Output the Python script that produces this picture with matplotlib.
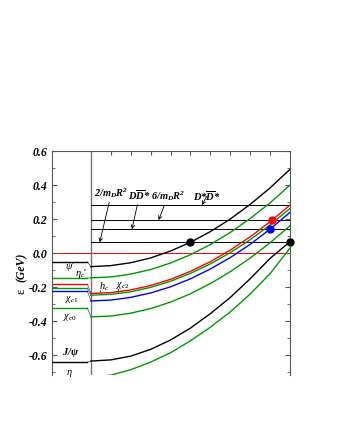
import numpy as np
import matplotlib
matplotlib.use('Agg')
import matplotlib.pyplot as plt

# 폰트 설정 (Times 계열 굵은 이탤릭)
plt.rcParams['font.family'] = 'serif'
plt.rcParams['font.serif'] = ['Liberation Serif', 'DejaVu Serif']
plt.rcParams['mathtext.fontset'] = 'custom'
plt.rcParams['mathtext.rm'] = 'Liberation Serif'
plt.rcParams['mathtext.it'] = 'Liberation Serif:italic'
plt.rcParams['mathtext.bf'] = 'Liberation Serif:bold:italic'

# 1. 데이터
x_grid = [0.0, 0.1, 0.2, 0.3, 0.4, 0.5, 0.6, 0.7, 0.8, 0.9, 1.0]

psi2s_curve = [-0.078, -0.072, -0.055, -0.027, 0.014, 0.065, 0.128, 0.202, 0.288, 0.385, 0.494]
etac2s_curve = [-0.144, -0.139, -0.122, -0.095, -0.057, -0.008, 0.052, 0.123, 0.205, 0.297, 0.401]
hc_curve = [-0.236, -0.231, -0.215, -0.189, -0.153, -0.106, -0.049, 0.019, 0.097, 0.185, 0.284]
chic2_curve = [-0.246, -0.241, -0.226, -0.200, -0.164, -0.118, -0.062, 0.004, 0.080, 0.167, 0.264]
chic1_curve = [-0.280, -0.275, -0.259, -0.233, -0.197, -0.150, -0.092, -0.025, 0.053, 0.142, 0.241]
chic0_curve = [-0.374, -0.369, -0.352, -0.325, -0.287, -0.238, -0.178, -0.108, -0.028, 0.062, 0.162]
jpsi_curve = [-0.634, -0.627, -0.605, -0.565, -0.510, -0.440, -0.355, -0.260, -0.150, -0.030, 0.068]
etac_curve = [-0.730, -0.717, -0.685, -0.640, -0.585, -0.515, -0.435, -0.345, -0.240, -0.120, 0.030]

curves = [psi2s_curve, etac2s_curve, hc_curve, chic2_curve, chic1_curve,
          chic0_curve, jpsi_curve, etac_curve]
curve_colors = ['black', '#009900', 'red', '#009900', 'blue', '#009900', 'black', '#009900']

# 왼쪽 패널 (자유 공간 준위)
levels = [-0.050, -0.145, -0.182, -0.205, -0.222, -0.322, -0.640, -0.740]

# 문턱 에너지 (수평선)
thresholds = [0.285, 0.196, 0.142, 0.065]

# 점 표시
dot_x = [0.5, 1.0, 0.908, 0.9]
dot_y = [0.065, 0.068, 0.197, 0.142]
dot_colors = ['black', 'black', 'red', 'blue']

yticks = [-0.6, -0.4, -0.2, 0.0, 0.2, 0.4, 0.6]

# 2. 그림
fig = plt.figure(figsize=(3.41, 4.41), dpi=100)
ax = fig.add_axes([0.1525, 0.1497, 0.6975, 0.5068])
ax.set_xlim(-0.196, 1.0)
ax.set_ylim(-0.716, 0.6)

# 0 기준선
ax.axhline(0.0, color='red', lw=0.7, zorder=1)
ax.axvline(0.0, color='0.45', lw=1.0, zorder=1)

for th in thresholds:
    ax.plot([0, 1], [th, th], color='black', lw=0.7, zorder=2)

for lev, crv, col in zip(levels, curves, curve_colors):
    ax.plot([-0.196, -0.018], [lev, lev], color=col, lw=1.0, zorder=3)
    ax.plot([-0.018, 0.0], [lev, crv[0]], color='0.4', lw=0.6, zorder=2)
    ax.plot(x_grid, crv, color=col, lw=1.0, zorder=3)

for xd, yd, col in zip(dot_x, dot_y, dot_colors):
    ax.plot(xd, yd, 'o', color=col, ms=5, zorder=5, clip_on=False)

# 축 스타일
for side in ['left', 'right', 'top']:
    ax.spines[side].set_color('0.35')
ax.spines['bottom'].set_visible(False)
ax.set_xticks(np.arange(0.1, 0.95, 0.1))
ax.tick_params(axis='x', bottom=False, top=True, labelbottom=False,
               direction='in', length=3, color='0.35')
ax.set_yticks(yticks)
ax.set_yticks(np.arange(-0.7, 0.65, 0.1), minor=True)
ax.tick_params(axis='y', which='both', left=True, right=True,
               direction='in', color='0.35')
ax.tick_params(axis='y', which='major', length=3.5)
ax.tick_params(axis='y', which='minor', length=2.5)
ax.set_yticklabels([f'{v:.1f}' for v in yticks], fontsize=8.5,
                   fontweight='bold', fontstyle='italic')

# y축 라벨
fig.text(0.064, 1 - 291 / 441, 'ε', rotation=90, ha='center', va='center', fontsize=9)
fig.text(0.064, 1 - 267 / 441, '(GeV)', rotation=90, ha='center', va='center',
         fontsize=8.5, fontweight='bold', fontstyle='italic')

# 왼쪽 패널 라벨
ax.text(-0.105, -0.078, r"$\psi$'", fontsize=7.5, ha='center', va='center')
ax.text(-0.05, -0.118, r"$\eta_c$'", fontsize=7.5, ha='center', va='center')
ax.text(-0.098, -0.269, r"$\chi_{c1}$", fontsize=7.5, ha='center', va='center')
ax.text(-0.107, -0.378, r"$\chi_{c0}$", fontsize=7.5, ha='center', va='center')
ax.text(-0.103, -0.584, r"$\mathbf{J/\psi}$", fontsize=7.5, ha='center', va='center')
ax.text(-0.109, -0.708, r"$\eta$", fontsize=7.5, ha='center', va='center')

# h_c, chi_c2 라벨
ax.text(0.065, -0.196, r"$h_c$", fontsize=7.5, ha='center', va='center')
ax.plot([0.044, 0.044], [-0.218, -0.234], color='0.3', lw=0.6)
ax.text(0.16, -0.188, r"$\chi_{c2}$", fontsize=7.5, ha='center', va='center')
ax.plot([0.136, 0.136], [-0.212, -0.236], color='0.3', lw=0.6)

# 화살표 주석
arrow = dict(arrowstyle='->', lw=0.6, color='black', shrinkA=0, shrinkB=0,
             mutation_scale=6)
ax.annotate(r"$\mathbf{2/m_D R^2}$", xy=(0.044, 0.065), xytext=(0.103, 0.358),
            fontsize=7.5, ha='center', va='center', arrowprops=arrow)
ax.annotate(r"$\mathbf{D\overline{D}}$*", xy=(0.206, 0.142), xytext=(0.244, 0.343),
            fontsize=7.5, ha='center', va='center', fontweight='bold',
            fontstyle='italic', arrowprops=arrow)
ax.annotate(r"$\mathbf{6/m_D R^2}$", xy=(0.34, 0.196), xytext=(0.387, 0.337),
            fontsize=7.5, ha='center', va='center', arrowprops=arrow)
ax.annotate(r"D*$\mathbf{\overline{D}}$*", xy=(0.558, 0.285), xytext=(0.583, 0.338),
            fontsize=7.5, ha='center', va='center', fontweight='bold',
            fontstyle='italic', arrowprops=arrow)

fig.savefig('out.png', dpi=100)
